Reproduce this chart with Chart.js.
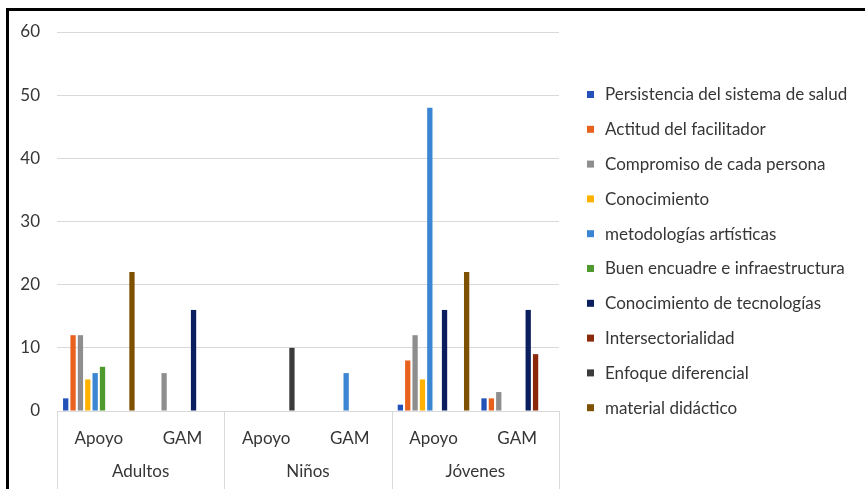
<!DOCTYPE html>
<html>
<head>
<meta charset="utf-8">
<script src="https://cdn.jsdelivr.net/npm/chart.js@4"></script>
<style>
  html, body { margin: 0; padding: 0; background: #fff; overflow: hidden; }
  #frame {
    position: absolute; left: 6px; top: 8px; width: 900px; height: 500px;
    border-left: 3px solid #000; border-top: 3px solid #000;
  }
  #wrap { position: absolute; left: 0; top: 0; width: 865px; height: 489px; }
</style>
</head>
<body>
<div id="frame"></div>
<div id="wrap"><canvas id="chart"></canvas></div>
<script>
// Category labels (inner level) and group labels (outer level)
const categories = ['Apoyo', 'GAM', 'Apoyo', 'GAM', 'Apoyo', 'GAM'];
const groups = ['Adultos', 'Niños', 'Jóvenes'];
const yTicks = [0, 10, 20, 30, 40, 50, 60];

// Series values, one per category (Adultos Apoyo, Adultos GAM, Niños Apoyo, Niños GAM, Jóvenes Apoyo, Jóvenes GAM)
const persistencia      = [2, 0, 0, 0, 1, 2];
const actitud           = [12, 0, 0, 0, 8, 2];
const compromiso        = [12, 6, 0, 0, 12, 3];
const conocimiento      = [5, 0, 0, 0, 5, 0];
const metodologias      = [6, 0, 0, 6, 48, 0];
const buenEncuadre      = [7, 0, 0, 0, 0, 0];
const conocTecnologias  = [0, 16, 0, 0, 16, 16];
const intersectorialidad = [0, 0, 0, 0, 0, 9];
const enfoque           = [0, 0, 10, 0, 0, 0];
const material          = [22, 0, 0, 0, 22, 0];

const seriesNames = [
    'Persistencia del sistema de salud',
    'Actitud del facilitador',
    'Compromiso de cada persona',
    'Conocimiento',
    'metodologías artísticas',
    'Buen encuadre e infraestructura',
    'Conocimiento de tecnologías',
    'Intersectorialidad',
    'Enfoque diferencial',
    'material didáctico'
];
const seriesValues = [persistencia, actitud, compromiso, conocimiento, metodologias,
    buenEncuadre, conocTecnologias, intersectorialidad, enfoque, material];
const seriesColors = ['#2151B9', '#E8611D', '#8E8E8E', '#FFB300', '#3A86D2',
    '#4E9A2F', '#0B1F5E', '#8A2A0A', '#3B3B3B', '#7D5100'];

const FONT = 'Lato, Carlito, Calibri, sans-serif';
const FONT_SIZE = 17;
const TEXT_COLOR = '#363636';
const GRID_COLOR = '#d9d9d9';

// Draws the outer group row with separators, and the legend at the right
const groupAxisPlugin = {
    id: 'groupAxis',
    afterDraw(chart) {
        const ctx = chart.ctx;
        const x = chart.scales.x;
        const bottom = chart.height;
        const perGroup = categories.length / groups.length;

        ctx.save();
        ctx.strokeStyle = GRID_COLOR;
        ctx.lineWidth = 1;
        const edges = [];
        for (let g = 0; g <= groups.length; g++) {
            let px;
            if (g === 0) px = x.left;
            else if (g === groups.length) px = x.right;
            else px = (x.getPixelForValue(g * perGroup - 1) + x.getPixelForValue(g * perGroup)) / 2;
            edges.push(px);
            ctx.beginPath();
            ctx.moveTo(Math.round(px) + 0.5, x.top);
            ctx.lineTo(Math.round(px) + 0.5, bottom);
            ctx.stroke();
        }

        ctx.fillStyle = TEXT_COLOR;
        ctx.font = FONT_SIZE + 'px ' + FONT;
        ctx.textAlign = 'center';
        ctx.textBaseline = 'middle';
        groups.forEach((name, g) => {
            ctx.fillText(name, (edges[g] + edges[g + 1]) / 2, 472);
        });

        // Legend
        ctx.textAlign = 'left';
        const top = 95, step = 34.8;
        chart.data.datasets.forEach((ds, i) => {
            const cy = top + i * step;
            ctx.fillStyle = ds.backgroundColor;
            ctx.fillRect(587, cy - 4, 7, 7);
            ctx.fillStyle = TEXT_COLOR;
            ctx.fillText(ds.label, 605, cy);
        });
        ctx.restore();
    }
};

const datasets = seriesNames.map((name, i) => ({
    label: name,
    data: seriesValues[i],
    backgroundColor: seriesColors[i],
    borderWidth: 0,
    categoryPercentage: 0.88,
    barPercentage: 0.72
}));

new Chart(document.getElementById('chart'), {
    type: 'bar',
    data: { labels: categories, datasets: datasets },
    options: {
        responsive: true,
        maintainAspectRatio: false,
        animation: false,
        layout: { padding: { left: 0, top: 32, right: 306, bottom: 0 } },
        plugins: {
            legend: { display: false },
            tooltip: { enabled: false }
        },
        scales: {
            x: {
                grid: { display: false },
                border: { display: true, color: GRID_COLOR },
                ticks: {
                    font: { family: FONT, size: FONT_SIZE },
                    color: TEXT_COLOR,
                    padding: 9,
                    maxRotation: 0
                },
                afterFit: function(scale) { scale.height = 78; }
            },
            y: {
                min: 0,
                max: 60,
                afterBuildTicks: function(scale) {
                    scale.ticks = yTicks.map(v => ({ value: v }));
                },
                grid: { color: GRID_COLOR, drawTicks: false },
                border: { display: false },
                ticks: {
                    font: { family: FONT, size: FONT_SIZE },
                    color: TEXT_COLOR,
                    padding: 17
                },
                afterFit: function(scale) { scale.width = 57; }
            }
        }
    },
    plugins: [groupAxisPlugin]
});
</script>
</body>
</html>
